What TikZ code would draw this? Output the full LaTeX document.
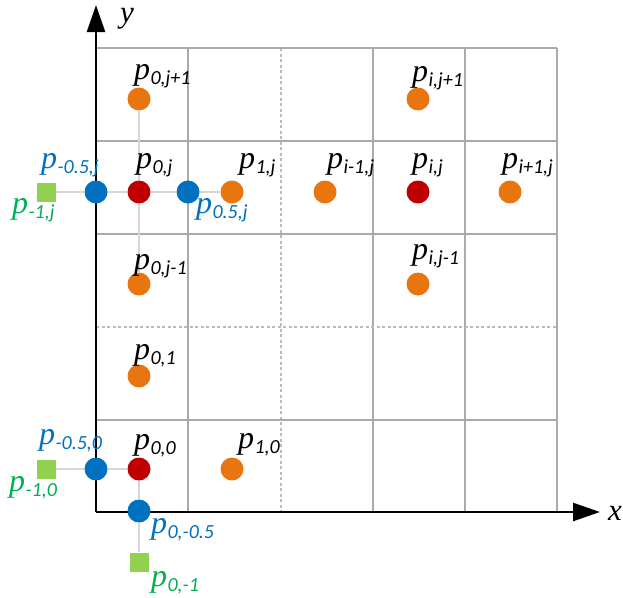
\documentclass[tikz,border=0pt]{standalone}
\usepackage{fontspec}
\usetikzlibrary{arrows.meta}
\newfontfamily\pfont{Liberation Serif}
\newfontfamily\sfont{Carlito}
\definecolor{ptorange}{HTML}{E97511}
\definecolor{ptred}{HTML}{C00000}
\definecolor{ptblue}{HTML}{0070C0}
\definecolor{ptgreensq}{HTML}{92D050}
\definecolor{ptgreentx}{HTML}{00B050}
\definecolor{gridgray}{HTML}{AAAAAA}
\definecolor{linkgray}{HTML}{D6D6D6}
\newcommand\plab[1]{{\pfont\itshape\fontsize{32}{32}\selectfont p}\kern0.3pt\raisebox{-5pt}{\sfont\itshape\fontsize{20}{20}\selectfont #1}}
\tikzset{
  gridline/.style={draw=gridgray, line width=1.5pt},
  griddash/.style={draw=gridgray!80, line width=1.3pt, dash pattern=on 3pt off 2.5pt},
  link/.style={draw=linkgray, line width=2pt},
  axis/.style={draw=black, line width=2.5pt, -{Triangle[length=27pt,width=18pt]}},
  dot/.style={circle, inner sep=0pt, minimum size=23pt},
  odot/.style={dot, fill=ptorange},
  rdot/.style={dot, fill=ptred},
  bdot/.style={dot, fill=ptblue},
  gsq/.style={rectangle, inner sep=0pt, minimum size=19pt, fill=ptgreensq},
  lab/.style={anchor=base west, inner sep=0pt},
  axlab/.style={anchor=base, inner sep=0pt, font=\pfont\itshape\fontsize{31}{31}\selectfont}
}
\begin{document}
\begin{tikzpicture}[x=1pt,y=-1pt]
\useasboundingbox (0,0) rectangle (623,597);
% grid
\foreach \gx in {188,373,465,557} \draw[gridline] (\gx,48) -- (\gx,512);
\draw[griddash] (281,48) -- (281,512);
\foreach \gy in {48,141,234,420} \draw[gridline] (96,\gy) -- (557,\gy);
\draw[griddash] (96,327) -- (557,327);
% coordinates for axes
\coordinate (O) at (96,512);
\coordinate (xend) at (600,512);
\coordinate (yend) at (96,5);
% axes
\draw[axis] (O) -- (xend);
\draw[axis] (O) -- (yend);
% points
\node[gsq]  (pm1j) at (46,192) {};
\node[bdot] (pmhj) at (96,192) {};
\node[rdot] (p0j)  at (139,192) {};
\node[bdot] (phj)  at (188,192) {};
\node[odot] (p1j)  at (232,192) {};
\node[odot] (pim1j) at (325,192) {};
\node[rdot] (pij)  at (418,192) {};
\node[odot] (pip1j) at (510,192) {};
\node[odot] (p0jp1) at (139,99) {};
\node[odot] (pijp1) at (418,99) {};
\node[odot] (p0jm1) at (139,284) {};
\node[odot] (pijm1) at (418,284) {};
\node[odot] (p01) at (139,376) {};
\node[gsq]  (pm10) at (46,469) {};
\node[bdot] (pmh0) at (96,469) {};
\node[rdot] (p00)  at (139,469) {};
\node[odot] (p10)  at (232,469) {};
\node[bdot] (p0mh) at (139,511) {};
\node[gsq]  (p0m1) at (139,562) {};
% links
\draw[link] (pm1j) -- (pmhj);
\draw[link] (pmhj) -- (p0j);
\draw[link] (p0j) -- (phj);
\draw[link] (phj) -- (p1j);
\draw[link] (p0jp1) -- (p0j);
\draw[link] (p0j) -- (p0jm1);
\draw[link] (pm10) -- (pmh0);
\draw[link] (pmh0) -- (p00);
\draw[link] (p00) -- (p0mh);
\draw[link] (p0mh) -- (p0m1);
\node[axlab] (xlab) at (615,520) {x};
\node[axlab] (ylab) at (127,22) {y};
% labels
\node[lab] (l0jp1) at (134,79) {\plab{0,j+1}};
\node[lab] (lijp1) at (412,81) {\plab{i,j+1}};
\node[lab] (lim1j) at (327,168) {\plab{i-1,j}};
\node[lab] (lij) at (412,168) {\plab{i,j}};
\node[lab] (lip1j) at (502,168) {\plab{i+1,j}};
\node[lab] (l0j) at (136,168) {\plab{0,j}};
\node[lab] (l1j) at (239,168) {\plab{1,j}};
\node[lab, text=ptblue] (lmhj) at (41,168) {\plab{-0.5,j}};
\node[lab, text=ptblue] (lhj) at (196,213) {\plab{0.5,j}};
\node[lab, text=ptgreentx] (lm1j) at (12,213) {\plab{-1,j}};
\node[lab] (l0jm1) at (134,269) {\plab{0,j-1}};
\node[lab] (lijm1) at (412,259) {\plab{i,j-1}};
\node[lab] (l01) at (134,359) {\plab{0,1}};
\node[lab] (l00) at (134,449) {\plab{0,0}};
\node[lab] (l10) at (238,448) {\plab{1,0}};
\node[lab, text=ptblue] (lmh0) at (39,444) {\plab{-0.5,0}};
\node[lab, text=ptgreentx] (lm10) at (9,491) {\plab{-1,0}};
\node[lab, text=ptblue] (l0mh) at (151,533) {\plab{0,-0.5}};
\node[lab, text=ptgreentx] (l0m1) at (151,586) {\plab{0,-1}};
\end{tikzpicture}
\end{document}
